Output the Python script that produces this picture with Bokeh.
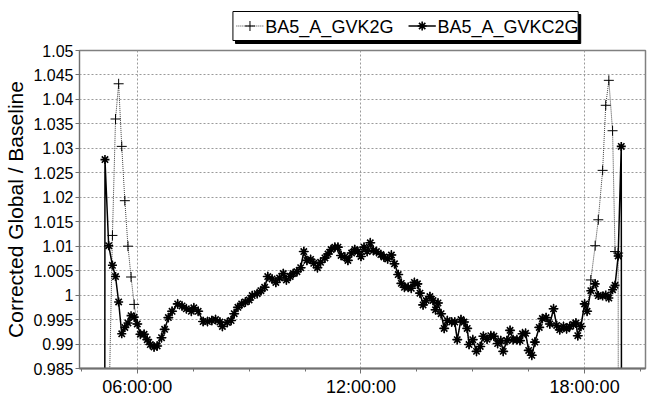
from bokeh.plotting import figure
from bokeh.layouts import column
from bokeh.models import (Range1d, FixedTicker, CustomJSTickFormatter, ColumnDataSource)
from bokeh.core.properties import value
from bokeh.embed import file_html
from bokeh.resources import INLINE

# time of each sample, minutes after midnight
times_min = [302, 308, 314, 320, 325, 330, 335, 340, 345, 350,
             355, 360, 365, 371, 376, 381, 387, 392, 399, 404,
             410, 416, 425, 432, 439, 447, 451, 458, 466, 473,
             480, 486, 493, 497, 505, 511, 516, 522, 528, 534,
             540, 545, 553, 559, 565, 570, 577, 583, 589, 595,
             600, 606, 611, 617, 623, 628, 633, 639, 644, 650,
             655, 662, 667, 672, 678, 683, 688, 694, 699, 705,
             710, 715, 720, 725, 730, 735, 740, 745, 752, 757,
             763, 769, 774, 780, 785, 790, 796, 801, 806, 811,
             815, 820, 825, 831, 836, 840, 844, 849, 854, 859,
             866, 871, 875, 881, 886, 891, 894, 900, 906, 912,
             917, 923, 929, 934, 940, 945, 949, 955, 960, 965,
             971, 976, 980, 985, 990, 995, 1000, 1007, 1012, 1018,
             1024, 1030, 1035, 1040, 1046, 1051, 1056, 1062, 1066, 1069,
             1074, 1080, 1084, 1090, 1097, 1102, 1109, 1114, 1119, 1125,
             1129, 1134, 1139, 1145]

gvkc2g = [0.0, 1.0277, 1.0101, 1.0061, 1.0038, 0.9986, 0.9921, 0.9934, 0.9943, 0.9958,
          0.9955, 0.9941, 0.9920, 0.9920, 0.9909, 0.9899, 0.9894, 0.9896, 0.9913, 0.9930,
          0.9954, 0.9967, 0.9982, 0.9978, 0.9972, 0.9967, 0.9974, 0.9967, 0.9946, 0.9946,
          0.9948, 0.9950, 0.9945, 0.9936, 0.9944, 0.9948, 0.9962, 0.9975, 0.9982, 0.9986,
          0.9990, 0.9999, 1.0003, 1.0009, 1.0016, 1.0038, 1.0033, 1.0026, 1.0035, 1.0044,
          1.0031, 1.0038, 1.0044, 1.0048, 1.0056, 1.0089, 1.0071, 1.0073, 1.0065, 1.0056,
          1.0067, 1.0076, 1.0084, 1.0093, 1.0098, 1.0098, 1.0081, 1.0078, 1.0071, 1.0086,
          1.0093, 1.0089, 1.0079, 1.0098, 1.0089, 1.0107, 1.0091, 1.0089, 1.0083, 1.0078,
          1.0074, 1.0082, 1.0064, 1.0042, 1.0024, 1.0016, 1.0016, 1.0014, 1.0026, 1.0023,
          1.0004, 0.9980, 0.9989, 0.9997, 0.9989, 0.9970, 0.9984, 0.9962, 0.9932, 0.9948,
          0.9945, 0.9945, 0.9909, 0.9950, 0.9945, 0.9932, 0.9899, 0.9909, 0.9885, 0.9895,
          0.9916, 0.9910, 0.9917, 0.9916, 0.9901, 0.9907, 0.9885, 0.9907, 0.9928, 0.9909,
          0.9909, 0.9907, 0.9921, 0.9922, 0.9887, 0.9877, 0.9904, 0.9934, 0.9952, 0.9954,
          0.9941, 0.9972, 0.9938, 0.9929, 0.9936, 0.9931, 0.9936, 0.9940, 0.9943, 0.9917,
          0.9936, 0.9982, 0.9967, 1.0009, 1.0023, 0.9999, 0.9998, 1.0000, 0.9994, 1.0011,
          1.0020, 1.0080, 1.0304, 0.0]

gvk2g = [0.0, 0.0, 0.974, 1.0122, 1.0360, 1.0432, 1.0304, 1.0193, 1.0100, 1.0037,
         0.9981, 0.9941, 0.9920, 0.9920, 0.9909, 0.9899, 0.9894, 0.9896, 0.9913, 0.9930,
         0.9954, 0.9967, 0.9982, 0.9978, 0.9972, 0.9967, 0.9974, 0.9967, 0.9946, 0.9946,
         0.9948, 0.9950, 0.9945, 0.9936, 0.9944, 0.9948, 0.9962, 0.9975, 0.9982, 0.9986,
         0.9990, 0.9999, 1.0003, 1.0009, 1.0016, 1.0038, 1.0033, 1.0026, 1.0035, 1.0044,
         1.0031, 1.0038, 1.0044, 1.0048, 1.0056, 1.0089, 1.0071, 1.0073, 1.0065, 1.0056,
         1.0067, 1.0076, 1.0084, 1.0093, 1.0098, 1.0098, 1.0081, 1.0078, 1.0071, 1.0086,
         1.0093, 1.0089, 1.0079, 1.0098, 1.0089, 1.0107, 1.0091, 1.0089, 1.0083, 1.0078,
         1.0074, 1.0082, 1.0064, 1.0042, 1.0024, 1.0016, 1.0016, 1.0014, 1.0026, 1.0023,
         1.0004, 0.9980, 0.9989, 0.9997, 0.9989, 0.9970, 0.9984, 0.9962, 0.9932, 0.9948,
         0.9945, 0.9945, 0.9909, 0.9950, 0.9945, 0.9932, 0.9899, 0.9909, 0.9885, 0.9895,
         0.9916, 0.9910, 0.9917, 0.9916, 0.9901, 0.9907, 0.9885, 0.9907, 0.9928, 0.9909,
         0.9909, 0.9907, 0.9921, 0.9922, 0.9887, 0.9877, 0.9904, 0.9934, 0.9952, 0.9954,
         0.9941, 0.9972, 0.9938, 0.9929, 0.9936, 0.9931, 0.9936, 0.9940, 0.9943, 0.9917,
         0.9936, 0.9982, 0.9967, 1.0031, 1.0101, 1.0154, 1.0255, 1.0388, 1.0439, 1.0336,
         1.0089, 1.0086, 0.0, 0.0]

series_names = ["BA5_A_GVK2G", "BA5_A_GVKC2G"]
y_ticks = [0.985, 0.99, 0.995, 1.0, 1.005, 1.01, 1.015, 1.02, 1.025, 1.03,
           1.035, 1.04, 1.045, 1.05]
x_major_ticks = [360, 720, 1080]
x_tick_labels = ["06:00:00", "12:00:00", "18:00:00"]
x_minor_ticks = [270, 450, 540, 630, 810, 900, 990, 1170]
y_label = "Corrected Global / Baseline"

FONT = "Liberation Sans"

# ---------------- legend strip (drawn as its own small figure) ----------------
LEG_H = 44
leg = figure(width=664, height=LEG_H, output_backend="svg", toolbar_location=None,
             x_range=Range1d(0, 664), y_range=Range1d(LEG_H, 0),
             x_axis_location=None, y_axis_location=None, min_border=0,
             background_fill_color="white", border_fill_color="white")
leg.grid.visible = False
leg.outline_line_color = None
bx0, by0, bx1, by1 = 180, 11, 585, 40
leg.quad(left=bx0 + 3, right=bx1 + 3, top=by0 + 3, bottom=by1 + 3,
         fill_color="black", line_color="black")
leg.quad(left=bx0, right=bx1, top=by0, bottom=by1, fill_color="white",
         line_color="black", line_width=1)
ym = (by0 + by1) / 2
g1 = (184, 216)
g2 = (386, 418)
leg.line(list(g1), [ym, ym], line_color="#404040", line_width=1, line_dash="1 1")
leg.scatter([sum(g1) / 2], [ym], marker="cross", size=10, line_color="black")
leg.line(list(g2), [ym, ym], line_color="black", line_width=1.5)
leg.scatter([sum(g2) / 2], [ym], marker="asterisk", size=9, line_color="black",
            line_width=1.6)
leg.text(x=[g1[1] + 2, g2[1] + 2], y=[ym + 1, ym + 1], text=series_names,
         text_font=value(FONT), text_font_size="18px", text_color="black",
         text_baseline="middle", text_align="left")

# ---------------- main chart ----------------
src = ColumnDataSource(dict(t=times_min, a=gvk2g, b=gvkc2g))

p = figure(width=664, height=405 - LEG_H, output_backend="svg", toolbar_location=None,
           x_range=Range1d(267, 1178), y_range=Range1d(0.985, 1.05),
           min_border_left=79, min_border_right=19, min_border_top=50 - LEG_H,
           min_border_bottom=37, background_fill_color="white",
           border_fill_color="white")

p.outline_line_color = "#808080"
p.outline_line_width = 1.5

p.xgrid.ticker = FixedTicker(ticks=x_major_ticks)
p.ygrid.ticker = FixedTicker(ticks=y_ticks)
for g in (p.xgrid, p.ygrid):
    g.grid_line_color = "#9a9a9a"
    g.grid_line_dash = "2 2"
    g.grid_line_width = 1

p.xaxis.ticker = FixedTicker(ticks=x_major_ticks, minor_ticks=x_minor_ticks)
p.xaxis.major_label_overrides = {t: l for t, l in zip(x_major_ticks, x_tick_labels)}
p.yaxis.ticker = FixedTicker(ticks=y_ticks)
p.yaxis.formatter = CustomJSTickFormatter(
    code="return (Math.round(tick*1000)/1000).toString();")
p.yaxis.axis_label = y_label

for ax in (p.xaxis[0], p.yaxis[0]):
    ax.axis_line_color = "#707070"
    ax.major_tick_line_color = "#707070"
    ax.minor_tick_line_color = "#707070"
    ax.major_label_text_font = FONT
    ax.major_label_text_color = "black"
    ax.major_tick_in = 0
    ax.minor_tick_in = 0
p.xaxis.axis_line_width = 2
p.xaxis.major_tick_out = 5
p.xaxis.minor_tick_out = 3
p.xaxis.major_label_text_font_size = "18px"
p.xaxis.major_label_standoff = 3
p.yaxis.major_tick_out = 4
p.yaxis.minor_tick_out = 0
p.yaxis.major_label_text_font_size = "16px"
p.yaxis.major_label_standoff = 2
p.yaxis.axis_label_text_font = FONT
p.yaxis.axis_label_text_font_size = "21px"
p.yaxis.axis_label_text_font_style = "normal"
p.yaxis.axis_label_text_color = "black"
p.yaxis.axis_label_standoff = 3

p.line("t", "a", source=src, line_color="#404040", line_width=1, line_dash="1 1")
p.scatter("t", "a", source=src, marker="cross", size=10, line_color="black",
          line_width=1)
p.line("t", "b", source=src, line_color="black", line_width=1.5)
p.scatter("t", "b", source=src, marker="asterisk", size=9, line_color="black",
          line_width=1.6)

layout = column(leg, p, spacing=0)
open("out.html", "w").write(file_html(layout, INLINE))
